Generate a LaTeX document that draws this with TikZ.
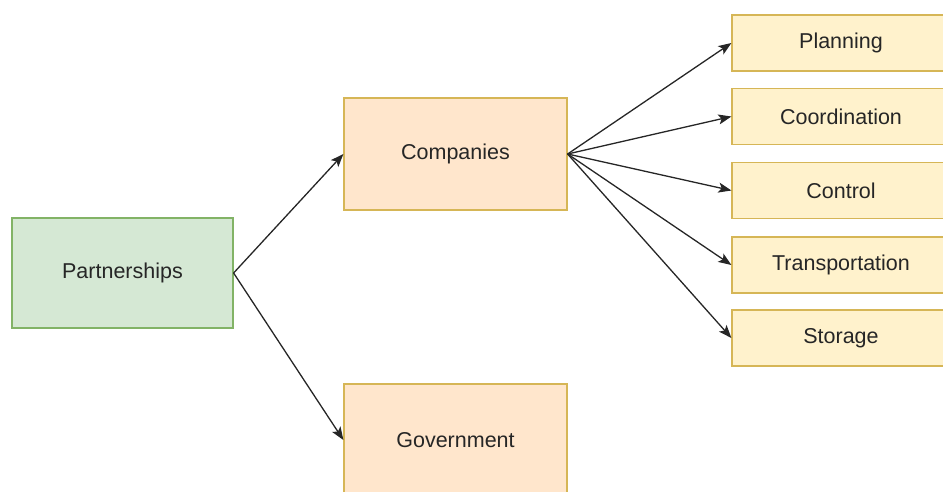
\documentclass[tikz,border=0pt]{standalone}
\usepackage{fontspec}
\setmainfont{Liberation Sans}
\usetikzlibrary{arrows.meta}
\definecolor{greenfill}{HTML}{D5E8D4}
\definecolor{greenline}{HTML}{82B366}
\definecolor{orangefill}{HTML}{FFE6CC}
\definecolor{orangeline}{HTML}{D6B656}
\definecolor{yellowfill}{HTML}{FFF2CC}
\definecolor{yellowline}{HTML}{D6B656}
\begin{document}
\begin{tikzpicture}[x=1pt,y=-1pt,
  box/.style={draw, line width=1.2pt, inner sep=0pt,
    font=\fontsize{21.5}{26}\selectfont, text=black!85},
  greenbox/.style={box, fill=greenfill, draw=greenline,
    minimum width=221pt, minimum height=110pt},
  orangebox/.style={box, fill=orangefill, draw=orangeline,
    minimum width=223pt, minimum height=112pt},
  yellowbox/.style={box, fill=yellowfill, draw=yellowline,
    minimum width=218pt, minimum height=56pt},
  link/.style={line width=1.3pt, draw=black!85,
    -{Stealth[length=13pt,width=10pt,inset=3pt]}}]
\useasboundingbox (0,0) rectangle (943,491);
\begin{scope}
\clip (0,0) rectangle (943,491);
% left column
\node[greenbox] (part) at (122.5,273) {Partnerships};
% middle column
\node[orangebox] (comp) at (455.5,154) {Companies};
\node[orangebox] (gov) at (455.5,440) {Government};
% right column
\node[yellowbox] (plan) at (841,43) {Planning};
\node[yellowbox] (coord) at (841,116.5) {Coordination};
\node[yellowbox] (ctrl) at (841,190.5) {Control};
\node[yellowbox] (trans) at (841,265) {Transportation};
\node[yellowbox] (stor) at (841,338) {Storage};
% connectors
\draw[link] (part.east) -- (comp.west);
\draw[link] (part.east) -- (gov.west);
\foreach \t in {plan,coord,ctrl,trans,stor}
  \draw[link] (comp.east) -- (\t.west);
\end{scope}
\end{tikzpicture}
\end{document}
